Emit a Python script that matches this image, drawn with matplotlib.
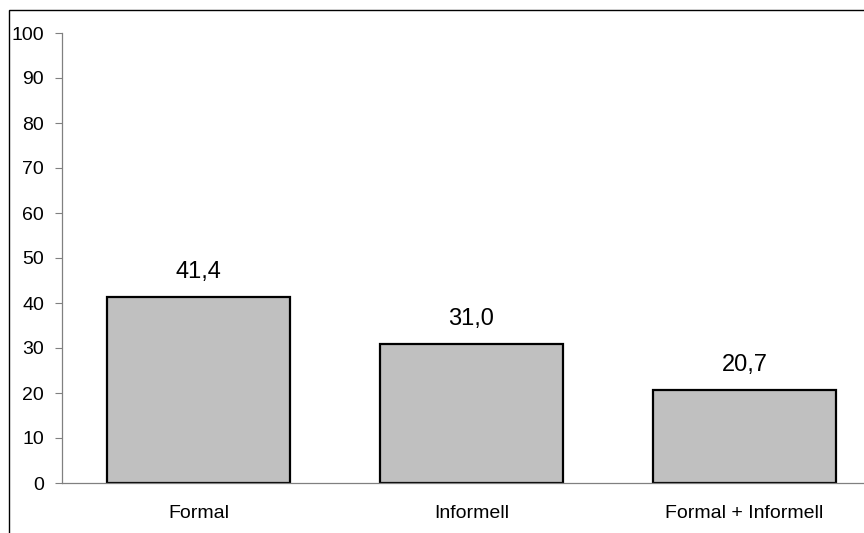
import matplotlib.pyplot as plt
from matplotlib.patches import Rectangle

plt.rcParams['font.family'] = ['Liberation Sans', 'DejaVu Sans']

kategorier = ['Formal', 'Informell', 'Formal + Informell']
andel = [41.4, 31.0, 20.7]
yticks = list(range(0, 101, 10))

fig = plt.figure(figsize=(8.64, 5.33), dpi=100)
ax = fig.add_axes([62/864, 1-483/533, 819/864, 450/533])

x = range(len(kategorier))
ax.bar(x, andel, width=0.67, color='#C0C0C0', edgecolor='black', linewidth=1.6)
for xi, v in zip(x, andel):
    ax.text(xi, v + 4.2, f'{v:.1f}'.replace('.', ','), ha='center', va='baseline', fontsize=17)

ax.set_xlim(-0.5, len(kategorier) - 0.5)
ax.set_ylim(0, 100)
ax.set_yticks(yticks)
ax.set_xticks(list(x))
ax.set_xticklabels(kategorier)
ax.tick_params(axis='y', direction='out', length=5, width=0.8, color='#808080', labelsize=14, pad=8)
ax.tick_params(axis='x', length=0, labelsize=14, pad=16)
for s in ['top', 'right']:
    ax.spines[s].set_visible(False)
for s in ['left', 'bottom']:
    ax.spines[s].set_color('#808080')
    ax.spines[s].set_linewidth(0.9)

# ram runt hela diagrammet
fig.patches.append(Rectangle((9/864, -0.1), 1.2, 1.1 - 10/533, transform=fig.transFigure,
                             fill=False, edgecolor='black', linewidth=1.0))

fig.savefig('out.png', dpi=100)
